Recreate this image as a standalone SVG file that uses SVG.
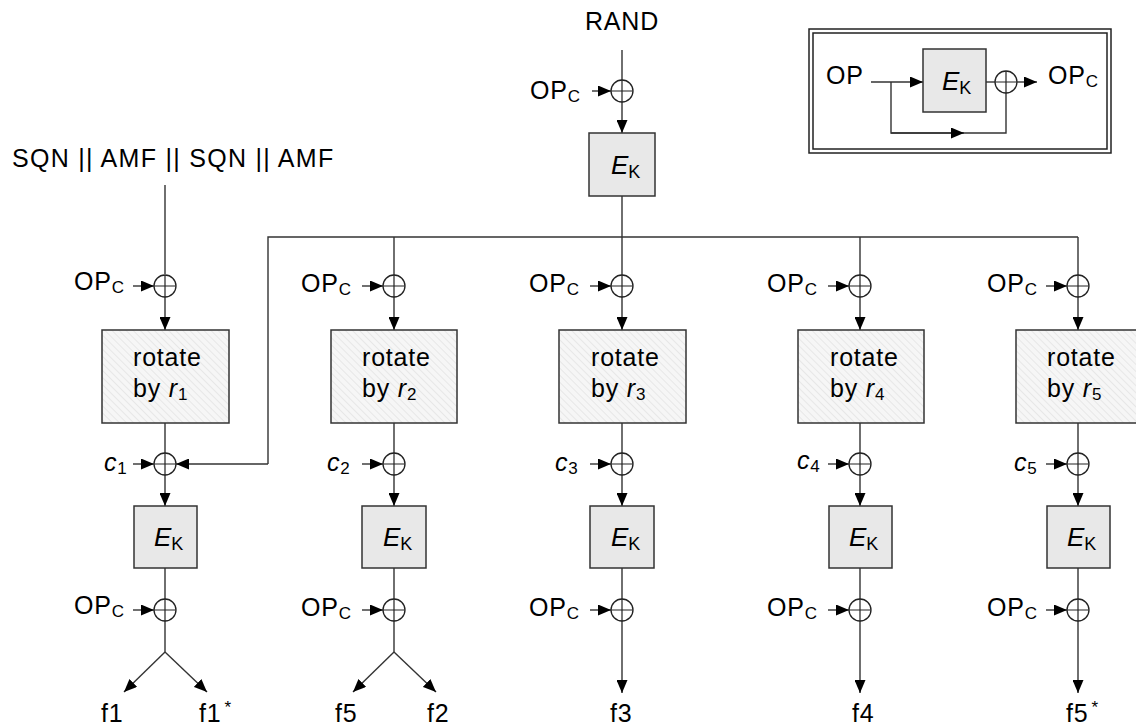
<svg xmlns="http://www.w3.org/2000/svg" width="1136" height="726" viewBox="0 0 1136 726">
<style>
text{font-family:"Liberation Sans",Arial,sans-serif;fill:#000}
.lbl{font-size:25px;letter-spacing:0.8px}
.sub{font-size:17px;letter-spacing:0}
.ek{fill:#e8e8e8;stroke:#333;stroke-width:1.5}
.rot{fill:url(#hatch);stroke:#333;stroke-width:1.5}
.ln{fill:none;stroke:#333;stroke-width:1.4}
.arr{fill:none;stroke:#333;stroke-width:1.4;marker-end:url(#ah)}
.x{fill:#fff;stroke:#222;stroke-width:1.3}
.ekt{font-size:26px}
.eks{font-size:18px}
</style>
<defs>
<marker id="ah" markerWidth="13" markerHeight="11" refX="13" refY="5.5" orient="auto" markerUnits="userSpaceOnUse">
<path d="M0,0 L13,5.5 L0,11 z" fill="#000"/>
</marker>
<pattern id="hatch" width="5" height="5" patternUnits="userSpaceOnUse" patternTransform="rotate(-45)">
<rect width="5" height="5" fill="#f6f6f6"/>
<line x1="0" y1="0" x2="0" y2="5" stroke="#e2e2e2" stroke-width="1.5"/>
</pattern>
<g id="xor"><circle r="11" class="x"/><path d="M-11,0H11M0,-11V11" stroke="#222" stroke-width="1.2"/></g>
</defs>

<!-- connectors -->
<g id="connectors">
<line class="ln" x1="622" y1="50" x2="622" y2="80"/>
<line class="arr" x1="622" y1="102" x2="622" y2="133"/>
<line class="arr" x1="592" y1="91" x2="611" y2="91"/>
<line class="ln" x1="622" y1="196" x2="622" y2="237"/>
<polyline class="ln" points="268,464 268,237 1078,237"/>
<line class="arr" x1="268" y1="464" x2="176" y2="464"/>
<line class="ln" x1="165" y1="185" x2="165" y2="274"/>
<line class="ln" x1="394" y1="237" x2="394" y2="275"/>
<line class="ln" x1="622" y1="237" x2="622" y2="275"/>
<line class="ln" x1="860" y1="237" x2="860" y2="275"/>
<line class="ln" x1="1078" y1="237" x2="1078" y2="275"/>
<g id="c1conn">
<line class="arr" x1="133" y1="286" x2="154" y2="286"/>
<line class="arr" x1="165" y1="297" x2="165" y2="330"/>
<line class="ln" x1="165" y1="423" x2="165" y2="453"/>
<line class="arr" x1="133" y1="464" x2="154" y2="464"/>
<line class="arr" x1="165" y1="475" x2="165" y2="506"/>
<line class="ln" x1="165" y1="568" x2="165" y2="599"/>
<line class="arr" x1="133" y1="610" x2="154" y2="610"/>
<line class="ln" x1="165" y1="621" x2="165" y2="652"/>
<line class="arr" x1="165" y1="652" x2="124" y2="692"/>
<line class="arr" x1="165" y1="652" x2="207" y2="692"/>
</g>
<g id="c2conn">
<line class="arr" x1="362" y1="286" x2="383" y2="286"/>
<line class="arr" x1="394" y1="297" x2="394" y2="330"/>
<line class="ln" x1="394" y1="423" x2="394" y2="453"/>
<line class="arr" x1="362" y1="464" x2="383" y2="464"/>
<line class="arr" x1="394" y1="475" x2="394" y2="506"/>
<line class="ln" x1="394" y1="568" x2="394" y2="599"/>
<line class="arr" x1="362" y1="610" x2="383" y2="610"/>
<line class="ln" x1="394" y1="621" x2="394" y2="652"/>
<line class="arr" x1="394" y1="652" x2="353" y2="692"/>
<line class="arr" x1="394" y1="652" x2="436" y2="692"/>
</g>
<g id="c3conn">
<line class="arr" x1="590" y1="286" x2="611" y2="286"/>
<line class="arr" x1="622" y1="297" x2="622" y2="330"/>
<line class="ln" x1="622" y1="423" x2="622" y2="453"/>
<line class="arr" x1="590" y1="464" x2="611" y2="464"/>
<line class="arr" x1="622" y1="475" x2="622" y2="506"/>
<line class="ln" x1="622" y1="568" x2="622" y2="599"/>
<line class="arr" x1="590" y1="610" x2="611" y2="610"/>
<line class="arr" x1="622" y1="621" x2="622" y2="693"/>
</g>
<g id="c4conn">
<line class="arr" x1="828" y1="286" x2="849" y2="286"/>
<line class="arr" x1="860" y1="297" x2="860" y2="330"/>
<line class="ln" x1="860" y1="423" x2="860" y2="453"/>
<line class="arr" x1="828" y1="464" x2="849" y2="464"/>
<line class="arr" x1="860" y1="475" x2="860" y2="506"/>
<line class="ln" x1="860" y1="568" x2="860" y2="599"/>
<line class="arr" x1="828" y1="610" x2="849" y2="610"/>
<line class="arr" x1="860" y1="621" x2="860" y2="693"/>
</g>
<g id="c5conn">
<line class="arr" x1="1046" y1="286" x2="1067" y2="286"/>
<line class="arr" x1="1078" y1="297" x2="1078" y2="330"/>
<line class="ln" x1="1078" y1="423" x2="1078" y2="453"/>
<line class="arr" x1="1046" y1="464" x2="1067" y2="464"/>
<line class="arr" x1="1078" y1="475" x2="1078" y2="506"/>
<line class="ln" x1="1078" y1="568" x2="1078" y2="599"/>
<line class="arr" x1="1046" y1="610" x2="1067" y2="610"/>
<line class="arr" x1="1078" y1="621" x2="1078" y2="693"/>
</g>
</g>

<g id="rand"><text class="lbl" x="585" y="30">RAND</text></g>
<g id="top-opc"><text class="lbl" x="530" y="99">OP<tspan class="sub" dy="3">C</tspan></text></g>
<g id="top-xor"><use href="#xor" x="622" y="91"/></g>
<g id="top-ek"><rect class="ek" x="589" y="133" width="66" height="63"/><text class="ekt" x="611" y="174"><tspan font-style="italic">E</tspan><tspan class="eks" dy="4">K</tspan></text></g>
<g id="sqn"><text class="lbl" x="12" y="167" textLength="322" lengthAdjust="spacing">SQN || AMF || SQN || AMF</text></g>

<g id="col1">
<text class="lbl" x="74" y="290">OP<tspan class="sub" dy="3">C</tspan></text>
<use href="#xor" x="165" y="286"/>
<rect class="rot" x="102" y="330" width="127" height="93"/>
<text class="lbl" x="133" y="366">rotate</text>
<text class="lbl" x="133" y="397">by <tspan font-style="italic">r</tspan><tspan class="sub" dy="3">1</tspan></text>
<text class="lbl" x="104" y="471" font-style="italic">c<tspan class="sub" font-style="normal" dy="3">1</tspan></text>
<use href="#xor" x="165" y="464"/>
<rect class="ek" x="134" y="506" width="63" height="62"/>
<text class="ekt" x="154" y="546"><tspan font-style="italic">E</tspan><tspan class="eks" dy="4">K</tspan></text>
<text class="lbl" x="74" y="614">OP<tspan class="sub" dy="3">C</tspan></text>
<use href="#xor" x="165" y="610"/>
<text class="lbl" x="101" y="722">f1</text>
<text class="lbl" x="199" y="722">f1<tspan class="sub" dx="3" dy="-9">*</tspan></text>
</g>

<g id="col2">
<text class="lbl" x="301" y="292">OP<tspan class="sub" dy="3">C</tspan></text>
<use href="#xor" x="394" y="286"/>
<rect class="rot" x="331" y="330" width="126" height="93"/>
<text class="lbl" x="362" y="366">rotate</text>
<text class="lbl" x="362" y="397">by <tspan font-style="italic">r</tspan><tspan class="sub" dy="3">2</tspan></text>
<text class="lbl" x="327" y="471" font-style="italic">c<tspan class="sub" font-style="normal" dy="3">2</tspan></text>
<use href="#xor" x="394" y="464"/>
<rect class="ek" x="362" y="506" width="64" height="62"/>
<text class="ekt" x="383" y="546"><tspan font-style="italic">E</tspan><tspan class="eks" dy="4">K</tspan></text>
<text class="lbl" x="301" y="616">OP<tspan class="sub" dy="3">C</tspan></text>
<use href="#xor" x="394" y="610"/>
<text class="lbl" x="335" y="722">f5</text>
<text class="lbl" x="427" y="722">f2</text>
</g>

<g id="col3">
<text class="lbl" x="529" y="292">OP<tspan class="sub" dy="3">C</tspan></text>
<use href="#xor" x="622" y="286"/>
<rect class="rot" x="559" y="330" width="127" height="93"/>
<text class="lbl" x="591" y="366">rotate</text>
<text class="lbl" x="591" y="397">by <tspan font-style="italic">r</tspan><tspan class="sub" dy="3">3</tspan></text>
<text class="lbl" x="555" y="471" font-style="italic">c<tspan class="sub" font-style="normal" dy="3">3</tspan></text>
<use href="#xor" x="622" y="464"/>
<rect class="ek" x="590" y="506" width="64" height="62"/>
<text class="ekt" x="611" y="546"><tspan font-style="italic">E</tspan><tspan class="eks" dy="4">K</tspan></text>
<text class="lbl" x="529" y="616">OP<tspan class="sub" dy="3">C</tspan></text>
<use href="#xor" x="622" y="610"/>
<text class="lbl" x="610" y="722">f3</text>
</g>

<g id="col4">
<text class="lbl" x="767" y="292">OP<tspan class="sub" dy="3">C</tspan></text>
<use href="#xor" x="860" y="286"/>
<rect class="rot" x="798" y="330" width="126" height="93"/>
<text class="lbl" x="830" y="366">rotate</text>
<text class="lbl" x="830" y="397">by <tspan font-style="italic">r</tspan><tspan class="sub" dy="3">4</tspan></text>
<text class="lbl" x="797" y="469" font-style="italic">c<tspan class="sub" font-style="normal" dy="3">4</tspan></text>
<use href="#xor" x="860" y="464"/>
<rect class="ek" x="829" y="506" width="63" height="62"/>
<text class="ekt" x="849" y="546"><tspan font-style="italic">E</tspan><tspan class="eks" dy="4">K</tspan></text>
<text class="lbl" x="767" y="616">OP<tspan class="sub" dy="3">C</tspan></text>
<use href="#xor" x="860" y="610"/>
<text class="lbl" x="852" y="722">f4</text>
</g>

<g id="col5">
<text class="lbl" x="987" y="292">OP<tspan class="sub" dy="3">C</tspan></text>
<use href="#xor" x="1078" y="286"/>
<rect class="rot" x="1016" y="330" width="126" height="93"/>
<text class="lbl" x="1047" y="366">rotate</text>
<text class="lbl" x="1047" y="397">by <tspan font-style="italic">r</tspan><tspan class="sub" dy="3">5</tspan></text>
<text class="lbl" x="1014" y="471" font-style="italic">c<tspan class="sub" font-style="normal" dy="3">5</tspan></text>
<use href="#xor" x="1078" y="464"/>
<rect class="ek" x="1047" y="506" width="63" height="62"/>
<text class="ekt" x="1067" y="546"><tspan font-style="italic">E</tspan><tspan class="eks" dy="4">K</tspan></text>
<text class="lbl" x="987" y="616">OP<tspan class="sub" dy="3">C</tspan></text>
<use href="#xor" x="1078" y="610"/>
<text class="lbl" x="1066" y="722">f5<tspan class="sub" dx="3" dy="-9">*</tspan></text>
</g>

<g id="legend">
<rect x="809" y="29" width="302" height="124" fill="#fff" stroke="#222" stroke-width="1.5"/>
<rect x="813" y="33" width="294" height="116" fill="none" stroke="#222" stroke-width="1.5"/>
<text class="lbl" x="826" y="84">OP</text>
<line class="arr" x1="871" y1="82" x2="923" y2="82"/>
<polyline class="ln" points="891,82 891,133 1006,133 1006,93"/>
<line class="arr" x1="891" y1="133" x2="964" y2="133"/>
<rect class="ek" x="923" y="49" width="63" height="63"/>
<text class="ekt" x="942" y="90"><tspan font-style="italic">E</tspan><tspan class="eks" dy="4">K</tspan></text>
<line class="ln" x1="986" y1="82" x2="995" y2="82"/>
<use href="#xor" x="1006" y="82"/>
<line class="arr" x1="1017" y1="82" x2="1037" y2="82"/>
<text class="lbl" x="1048" y="84">OP<tspan class="sub" dy="3">C</tspan></text>
</g>
</svg>
